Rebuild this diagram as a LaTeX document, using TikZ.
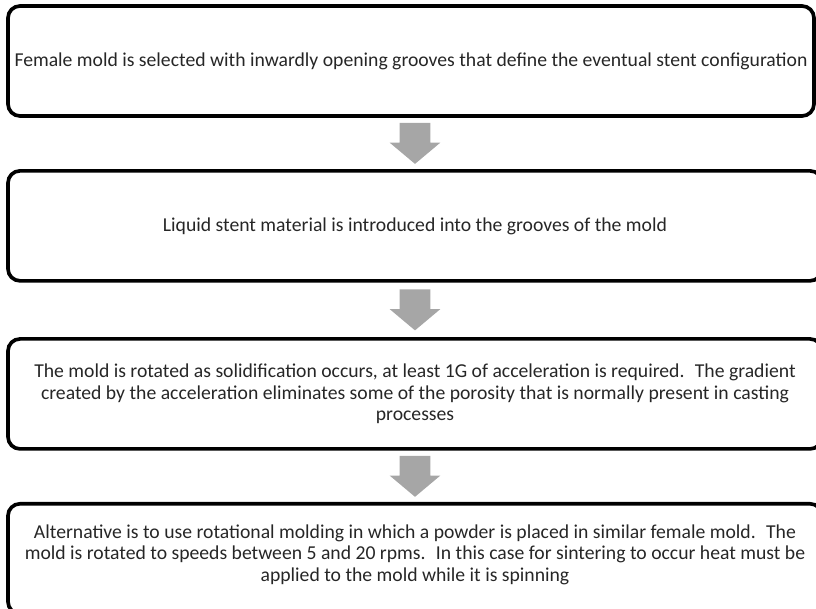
\documentclass[tikz,border=0pt]{standalone}
\usepackage{fontspec}
\setmainfont{Carlito}
\usetikzlibrary{positioning,shapes.arrows,calc}
\definecolor{arrowgray}{HTML}{A6A6A6}
\definecolor{textgray}{HTML}{262626}
\tikzset{
  stepbox/.style = {draw=black, line width=2.6pt, rounded corners=0.3cm,
    align=center, minimum height=2.75cm, inner sep=0pt, text=textgray,
    font=\fontsize{14}{15.2}\selectfont},% boite d'etape
  downarrow/.style = {single arrow, fill=arrowgray, draw=none,
    shape border rotate=270, minimum height=1.025cm,
    inner xsep=0.375cm, inner ysep=0pt, anchor=tail,
    single arrow head extend=0.25cm, single arrow tip angle=100}% fleche grise
}
\begin{document}
\begin{tikzpicture}[node distance=1.28cm]
\useasboundingbox (0,0) rectangle (20.4,-15.2);
\node [stepbox, minimum width=20.15cm] (box1) at (10.275,-1.525)
  {Female mold is selected with inwardly opening grooves that define the eventual stent configuration};
\node [stepbox, minimum width=20.35cm, below=of box1.south west, anchor=north west] (box2)
  {Liquid stent material is introduced into the grooves of the mold};
\node [stepbox, minimum width=20.35cm, below=1.36cm of box2] (box3)
  {The mold is rotated as solidification occurs, at least 1G of acceleration is required.~ The gradient\\
   created by the acceleration eliminates some of the porosity that is normally present in casting\\
   processes};
\node [stepbox, minimum width=20.35cm, below=of box3] (box4)
  {Alternative is to use rotational molding in which a powder is placed in similar female mold.~ The\\
   mold is rotated to speeds between 5 and 20 rpms.~ In this case for sintering to occur heat must be\\
   applied to the mold while it is spinning\\[-0.236cm]};
% fleches entre les etapes
\node [downarrow] (a12) at ($(box1.south -| box2.north)+(0,-0.12)$) {};
\node [downarrow] (a23) at ($(box2.south)+(0,-0.16)$) {};
\node [downarrow] (a34) at ($(box3.south)+(0,-0.12)$) {};
\end{tikzpicture}
\end{document}
